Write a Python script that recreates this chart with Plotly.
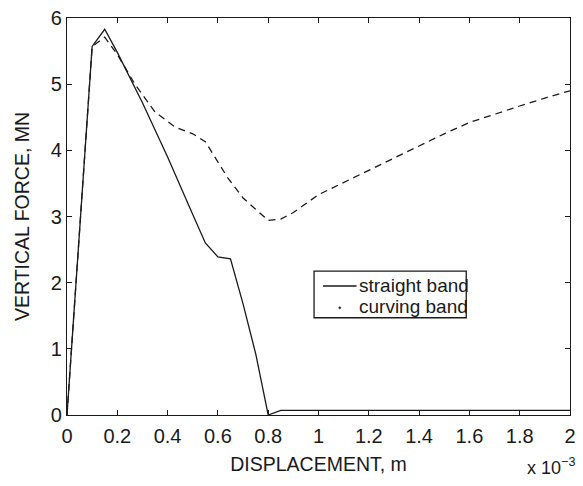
import plotly.graph_objects as go

# Displacement in units of 1e-3 m, force in MN
straight_x = [0, 0.1, 0.15, 0.2, 0.3, 0.4, 0.5, 0.55, 0.6, 0.65, 0.7, 0.75, 0.8, 0.85, 2.0]
straight_y = [0, 5.57, 5.83, 5.48, 4.72, 3.9, 3.03, 2.6, 2.39, 2.36, 1.68, 0.93, 0, 0.07, 0.07]

curving_x = [0, 0.1, 0.15, 0.2, 0.27, 0.35, 0.43, 0.5, 0.55, 0.59, 0.64, 0.7, 0.76,
             0.8, 0.85, 0.9, 1.0, 1.2, 1.4, 1.5, 1.6, 1.7, 1.8, 1.9, 2.0]
curving_y = [0, 5.57, 5.71, 5.45, 5.0, 4.58, 4.35, 4.25, 4.13, 3.88, 3.58, 3.28, 3.07,
             2.94, 2.96, 3.06, 3.33, 3.7, 4.07, 4.25, 4.42, 4.55, 4.67, 4.79, 4.9]

x_ticks = [0, 0.2, 0.4, 0.6, 0.8, 1.0, 1.2, 1.4, 1.6, 1.8, 2.0]
x_tick_text = ["0", "0.2", "0.4", "0.6", "0.8", "1", "1.2", "1.4", "1.6", "1.8", "2"]
y_ticks = [0, 1, 2, 3, 4, 5, 6]
legend_names = ["straight band", "curving band"]

FONT = "Liberation Sans, Arial, Helvetica, sans-serif"
INK = "#1a1a1a"

# plot area in pixels (for placing the hand-drawn legend box)
L, R, T, B = 67, 576, 15, 415
W, H = R - L, B - T


def px(x):
    return (x - L) / W


def py(y):
    return (B - y) / H


fig = go.Figure()
fig.add_trace(go.Scatter(x=straight_x, y=straight_y, mode="lines", name=legend_names[0],
                         line=dict(color=INK, width=1.3), showlegend=False))
fig.add_trace(go.Scatter(x=curving_x, y=curving_y, mode="lines", name=legend_names[1],
                         line=dict(color=INK, width=1.3, dash="7px,5px"), showlegend=False))

fig.update_layout(
    width=583, height=486,
    margin=dict(l=L, r=583 - R, t=T, b=486 - B),
    paper_bgcolor="white", plot_bgcolor="white",
    font=dict(family=FONT, size=20, color=INK),
    showlegend=False,
    xaxis=dict(range=[0, 2], tickvals=x_ticks, ticktext=x_tick_text,
               ticks="inside", ticklen=5, tickcolor=INK, showline=True, linecolor=INK,
               linewidth=1.3, mirror="ticks", showgrid=False, zeroline=False,
               ticklabelstandoff=3, tickfont=dict(size=20),
               title=dict(text="DISPLACEMENT, m", standoff=11, font=dict(size=19.5))),
    yaxis=dict(range=[0, 6], tickvals=y_ticks,
               ticks="inside", ticklen=5, tickcolor=INK, showline=True, linecolor=INK,
               linewidth=1.3, mirror="ticks", showgrid=False, zeroline=False,
               tickfont=dict(size=20),
               title=dict(text="VERTICAL FORCE, MN", standoff=15, font=dict(size=19.5))),
)

# legend box (drawn by hand to match the reference's compact layout)
fig.add_shape(type="rect", xref="paper", yref="paper",
              x0=px(317), x1=px(471), y0=py(317), y1=py(270),
              line=dict(color=INK, width=1.3), fillcolor="white", layer="above")
fig.add_shape(type="line", xref="paper", yref="paper",
              x0=px(326), x1=px(360), y0=py(285), y1=py(285),
              line=dict(color=INK, width=1.3), layer="above")
fig.add_shape(type="circle", xref="paper", yref="paper",
              x0=px(342), x1=px(344), y0=py(308), y1=py(306),
              line=dict(color=INK, width=0.5), fillcolor=INK, layer="above")
for name, yc in zip(legend_names, [285, 306]):
    fig.add_annotation(text=name, xref="paper", yref="paper", x=px(360), y=py(yc),
                       xanchor="left", yanchor="middle", showarrow=False,
                       font=dict(size=19, color=INK))

fig.add_annotation(text="x 10<sup>\u22123</sup>", xref="paper", yref="paper",
                   x=px(583), y=py(467), xanchor="right", yanchor="middle",
                   showarrow=False, font=dict(size=18, color=INK))

fig.write_html("out.html")
